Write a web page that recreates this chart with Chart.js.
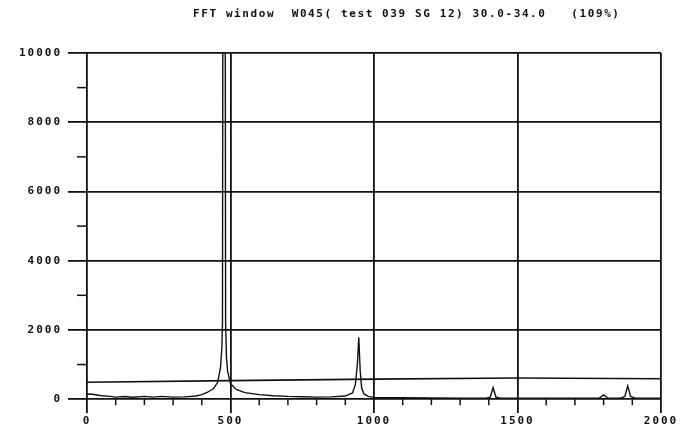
<!DOCTYPE html>
<html>
<head>
<meta charset="utf-8">
<script src="https://cdn.jsdelivr.net/npm/chart.js@4.4.1/dist/chart.umd.min.js"></script>
<style>
  html,body{margin:0;padding:0;background:#fff;}
  #wrap{width:683px;height:428px;position:relative;}
</style>
</head>
<body>
<div id="wrap"><canvas id="fft"></canvas></div>
<script>
// title + axis ticks
const titleText = 'FFT window  W045( test 039 SG 12) 30.0-34.0   (109%)';
const xTicks = [0, 500, 1000, 1500, 2000];
const yTicks = [0, 2000, 4000, 6000, 8000, 10000];

// spectrum
const freq = [0, 20, 50, 80, 100, 130, 160, 200, 230, 260, 300, 340, 380, 400, 420, 440, 455, 465, 470, 472, 477.5, 483, 486, 490, 500, 520, 550, 600, 650, 700, 750, 800, 850, 900, 925, 935, 942, 947, 952, 957, 965, 980, 1000, 1100, 1200, 1300, 1390, 1405, 1415, 1425, 1440, 1500, 1600, 1700, 1785, 1800, 1815, 1860, 1874, 1884, 1894, 1910, 1950, 2000];
const amp  = [150, 140, 100, 80, 60, 75, 55, 80, 60, 80, 60, 65, 90, 130, 200, 300, 480, 900, 1500, 2200, 40000, 2200, 1200, 800, 450, 280, 190, 130, 100, 80, 70, 60, 65, 90, 180, 420, 1000, 1790, 800, 330, 150, 80, 50, 40, 35, 30, 30, 60, 330, 60, 30, 25, 30, 25, 30, 125, 30, 30, 80, 385, 80, 30, 30, 30];

// threshold line
const thrFreq = [0, 500, 1000, 1500, 2000];
const thrAmp  = [490, 535, 578, 610, 590];

const INK = '#111';
const MONO = '"DejaVu Sans Mono", "Liberation Mono", monospace';

const lookPlugin = {
  id:'look',
  beforeDraw(chart){ chart.ctx.letterSpacing = '2px'; },
  afterDraw(chart){
    const ctx = chart.ctx, xs = chart.scales.x, ys = chart.scales.y;
    ctx.save();
    ctx.strokeStyle = INK; ctx.lineWidth = 1.5;
    // minor x ticks every 100 below the zero line
    const y0 = ys.getPixelForValue(0);
    for(let v=100; v<2000; v+=100){
      if(v%500===0) continue;
      const px = xs.getPixelForValue(v);
      ctx.beginPath(); ctx.moveTo(px,y0); ctx.lineTo(px,y0+6); ctx.stroke();
    }
    // minor y ticks at odd thousands
    const x0 = xs.getPixelForValue(0);
    for(let v=1000; v<10000; v+=2000){
      const py = ys.getPixelForValue(v);
      ctx.beginPath(); ctx.moveTo(x0-10,py); ctx.lineTo(x0,py); ctx.stroke();
    }
    // title
    ctx.letterSpacing = '1.6px';
    ctx.fillStyle = INK;
    ctx.font = 'bold 11px ' + MONO;
    ctx.textAlign = 'left'; ctx.textBaseline = 'middle';
    ctx.fillText(titleText, 193, 14);
    ctx.restore();
  }
};

new Chart(document.getElementById('fft'), {
  type:'line',
  data:{
    datasets:[
      {data: freq.map((f,i)=>({x:f, y:amp[i]})), borderColor:INK, borderWidth:1.4, pointRadius:0, tension:0},
      {data: thrFreq.map((f,i)=>({x:f, y:thrAmp[i]})), borderColor:INK, borderWidth:1.6, pointRadius:0, tension:0}
    ]
  },
  options:{
    responsive:true, maintainAspectRatio:false, animation:false,
    layout:{padding:{top:53, right:22, left:0, bottom:0}},
    plugins:{legend:{display:false}, tooltip:{enabled:false}, title:{display:false}},
    scales:{
      x:{
        type:'linear', min:0, max:2000,
        afterBuildTicks: s=>{ s.ticks = xTicks.map(v=>({value:v})); },
        afterFit: s=>{ s.height = 15; },
        border:{display:false},
        grid:{color:INK, lineWidth:1.8, drawTicks:false},
        ticks:{color:INK, padding:2, maxRotation:0, autoSkip:false, callback:v=>String(v),
               font:{family:MONO, size:11, weight:'bold'}}
      },
      y:{
        min:-400, max:10000,
        afterBuildTicks: s=>{ s.ticks = yTicks.map(v=>({value:v})); },
        afterFit: s=>{ s.width = 87; },
        border:{display:false},
        grid:{color:INK, lineWidth:1.8, tickLength:19},
        ticks:{color:INK, padding:6, autoSkip:false, callback:v=>String(v),
               font:{family:MONO, size:11, weight:'bold'}}
      }
    }
  },
  plugins:[lookPlugin]
});
</script>
</body>
</html>
